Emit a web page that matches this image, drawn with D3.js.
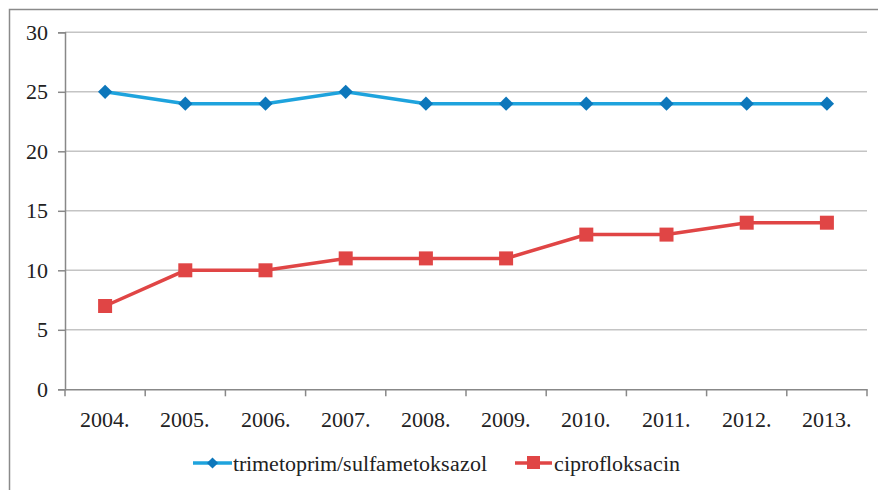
<!DOCTYPE html>
<html><head><meta charset="utf-8">
<script src="https://cdn.jsdelivr.net/npm/d3@7"></script>
<style>
@font-face { font-family: "ChartSerif"; src: local("Liberation Serif"), local("LiberationSerif"), local("Liberation Serif Regular"); }
body{margin:0}
svg text{font-family:"ChartSerif","Liberation Serif","DejaVu Serif",serif;}
</style>
</head><body><svg id="c" width="878" height="490"></svg>
<script>
const categories = ["2004.","2005.","2006.","2007.","2008.","2009.","2010.","2011.","2012.","2013."];
const tmpSmx = [25,24,24,25,24,24,24,24,24,24];
const cipro = [7,10,10,11,11,11,13,13,14,14];
const yTicks = [0,5,10,15,20,25,30];
const seriesNames = ["trimetoprim/sulfametoksazol","ciprofloksacin"];

const svg = d3.select("#c");
const L=65, R=867, T=32.3, B=389.3;
const FONT = '"ChartSerif", "Liberation Serif", "DejaVu Serif", serif';
function txt(xp, yp, s, anchor){
  return svg.append("text").attr("x",xp).attr("y",yp).attr("font-size",22)
    .attr("text-anchor",anchor||"start").attr("fill","#222")
    .style("font-family",FONT).text(s);
}

svg.append("rect").attr("x",9.5).attr("y",9.5).attr("width",900).attr("height",500)
  .attr("fill","none").attr("stroke","#8a8a8a").attr("stroke-width",1.5);

const x = d3.scaleBand().domain(categories).range([L,R]);
const y = d3.scaleLinear().domain([0,30]).range([B,T]);

svg.append("g").selectAll("line").data(yTicks.filter(d=>d>0)).join("line")
  .attr("x1",L).attr("x2",R).attr("y1",d=>y(d)).attr("y2",d=>y(d))
  .attr("stroke","#c4c4c4").attr("stroke-width",1.5);

const ya = svg.append("g").attr("transform",`translate(${L},0)`)
  .call(d3.axisLeft(y).tickValues(yTicks).tickSize(7).tickFormat(""));
ya.select(".domain").attr("stroke","#888").attr("stroke-width",1.5);
ya.selectAll(".tick line").attr("stroke","#888").attr("stroke-width",1.5);
yTicks.forEach(v=>txt(L-17, y(v)+7.5, String(v), "end"));

const xa = svg.append("g").attr("transform",`translate(0,${B})`)
  .call(d3.axisBottom(x).tickSize(0).tickFormat(""));
xa.select(".domain").attr("stroke","#888").attr("stroke-width",1.5);
const bounds = categories.map(c=>x(c)).concat([x(categories[categories.length-1])+x.bandwidth()]);
svg.append("g").selectAll("line").data(bounds).join("line")
  .attr("x1",d=>d).attr("x2",d=>d).attr("y1",B).attr("y2",B+7)
  .attr("stroke","#888").attr("stroke-width",1.5);
const cx = c=>x(c)+x.bandwidth()/2;
categories.forEach(c=>txt(cx(c), B+38, c, "middle"));

const line = d3.line().x((d,i)=>cx(categories[i])).y(d=>y(d));
const blueLine="#1ea3dd", blueMk="#0d77bb", red="#e04545";
svg.append("path").datum(tmpSmx).attr("d",line).attr("fill","none").attr("stroke",blueLine).attr("stroke-width",3.5);
svg.append("path").datum(cipro).attr("d",line).attr("fill","none").attr("stroke",red).attr("stroke-width",3.5);

const diamond = d3.symbol().type(d3.symbolDiamond2).size(130);
svg.append("g").selectAll("path").data(tmpSmx).join("path")
  .attr("d",diamond).attr("transform",(d,i)=>`translate(${cx(categories[i])},${y(d)})`).attr("fill",blueMk);
svg.append("g").selectAll("rect").data(cipro).join("rect")
  .attr("x",(d,i)=>cx(categories[i])-7).attr("y",d=>y(d)-7).attr("width",14).attr("height",14).attr("fill",red);

svg.append("line").attr("x1",193).attr("x2",232).attr("y1",463).attr("y2",463).attr("stroke",blueLine).attr("stroke-width",3.5);
svg.append("path").attr("d",d3.symbol().type(d3.symbolDiamond2).size(80)).attr("transform","translate(212.5,463)").attr("fill",blueMk);
txt(233, 471, seriesNames[0]);
svg.append("line").attr("x1",515).attr("x2",552).attr("y1",463).attr("y2",463).attr("stroke",red).attr("stroke-width",3.5);
svg.append("rect").attr("x",527).attr("y",456).attr("width",13).attr("height",13).attr("fill",red);
txt(554, 471, seriesNames[1]);
</script></body></html>
